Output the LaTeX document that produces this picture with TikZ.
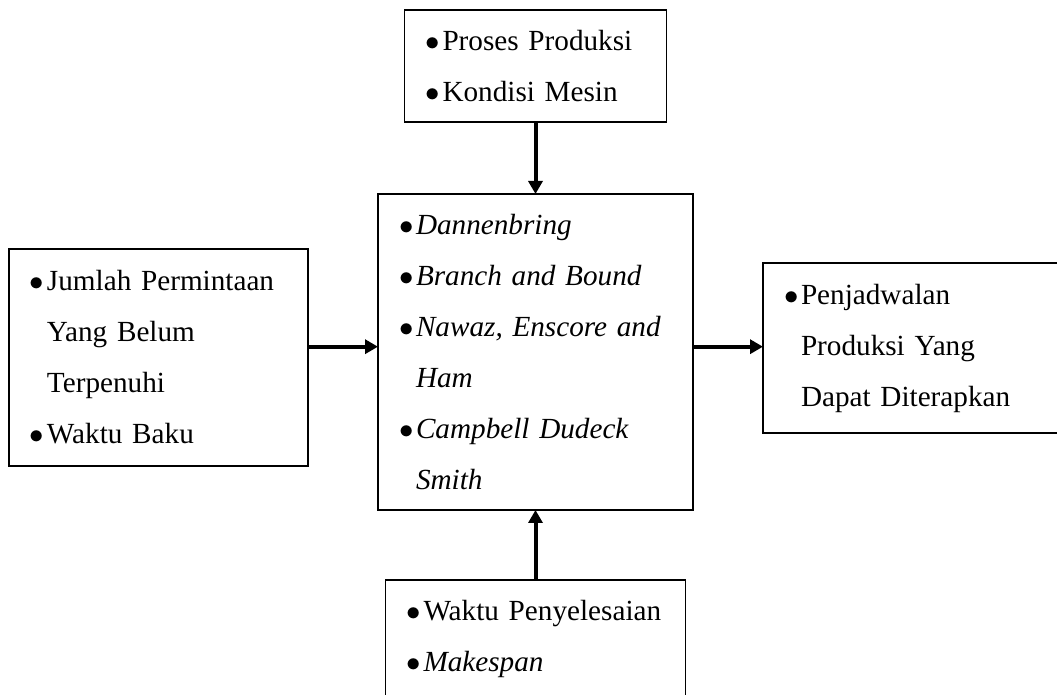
\documentclass[tikz,border=0pt]{standalone}
\usepackage{fontspec}
\setmainfont{Liberation Serif}
\usepackage{tikz}
\usetikzlibrary{arrows.meta,positioning}
\newcommand{\bitem}{\makebox[8.5pt][l]{$\bullet$}}
\newcommand{\bcont}{\hspace*{8.5pt}}

\begin{document}
\begin{tikzpicture}[
  x=0.5pt,y=-0.5pt,
  box/.style={draw=black,line width=0.6pt,inner xsep=10.5pt,inner ysep=0pt,outer sep=0pt,align=left,font=\fontsize{14.6pt}{25.5pt}\selectfont},
  edge/.style={-{Triangle[length=6.5pt,width=7pt]},line width=2pt}
]
\useasboundingbox (0,0) rectangle (1057,695);
\clip (0,0) rectangle (1057,695);
\node[box,text width=136.5pt,minimum height=158pt] (method) at (535.5,352)
  {\bitem\textit{Dannenbring}\\
   \bitem\textit{Branch and Bound}\\
   \bitem\textit{Nawaz, Enscore and}\\
   \bcont\textit{Ham}\\
   \bitem\textit{Campbell Dudeck}\\
   \bcont\textit{Smith}};
\node[box,text width=110pt,minimum height=56pt,above=36pt of method] (process)
  {\bitem Proses Produksi\\
   \bitem Kondisi Mesin};
\node[box,text width=128.5pt,minimum height=108.5pt,left=35pt of method,yshift=-2.75pt] (demand)
  {\bitem Jumlah Permintaan\\
   \bcont Yang Belum\\
   \bcont Terpenuhi\\
   \bitem Waktu Baku};
\node[box,text width=128.5pt,minimum height=85pt,right=35pt of method,yshift=2pt] (schedule)
  {\bitem Penjadwalan\\
   \bcont Produksi Yang\\
   \bcont Dapat Diterapkan};
\node[box,text width=129pt,minimum height=59pt,below=35pt of method] (measure)
  {\bitem Waktu Penyelesaian\\
   \bitem\textit{Makespan}};
\coordinate (inL) at ([yshift=2.65pt]method.west);
\coordinate (outR) at ([yshift=2.65pt]method.east);
\draw[edge] (process) -- (method);
\draw[edge] (demand.east |- inL) -- (inL);
\draw[edge] (outR) -- (outR -| schedule.west);
\draw[edge] (measure) -- (method);
\end{tikzpicture}
\end{document}
